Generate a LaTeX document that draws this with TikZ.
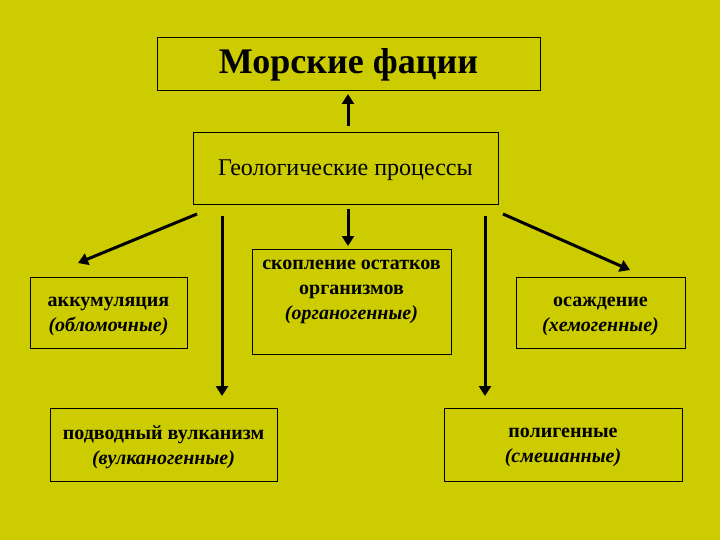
\documentclass[tikz,border=0pt]{standalone}
\usepackage{fontspec}
\setmainfont{Liberation Serif}
\usetikzlibrary{arrows.meta}
\definecolor{bg}{HTML}{CCCC00}
\begin{document}
\begin{tikzpicture}[x=1pt,y=-1pt,
  box/.style={draw=black,line width=0.8pt,fill=bg,inner sep=0pt},
  lbl/.style={font=\bfseries\fontsize{20}{25}\selectfont,align=center},
  arr/.style={line width=3pt,-{Triangle[length=10pt,width=12pt]}}]
\fill[bg] (0,0) rectangle (720,540);
\useasboundingbox (0,0) rectangle (720,540);
\node[box,minimum width=383pt,minimum height=53pt] (title) at (348.5,63.5) {};
\node[font=\bfseries\fontsize{36}{40}\selectfont] (titlet) at (348.5,65) {Морские фации};
\node[box,minimum width=305pt,minimum height=72pt] (geo) at (345.5,168) {};
\node[font=\fontsize{24}{28}\selectfont] (geot) at (345.5,170) {Геологические процессы};
\node[box,minimum width=157pt,minimum height=71pt] (akk) at (108.5,312.5) {};
\node[lbl] (akkt) at (108.5,316) {аккумуляция\\\textit{(обломочные)}};
\node[box,minimum width=199pt,minimum height=105pt] (org) at (351.5,301.5) {};
\node[lbl] (orgt) at (351.5,292) {скопление остатков\\организмов\\\textit{(органогенные)}};
\node[box,minimum width=169pt,minimum height=71pt] (him) at (600.5,312.5) {};
\node[lbl] (himt) at (600.5,316) {осаждение\\\textit{(хемогенные)}};
\node[box,minimum width=227pt,minimum height=73pt] (vul) at (163.5,444.5) {};
\node[lbl] (vult) at (163.5,447) {подводный вулканизм\\\textit{(вулканогенные)}};
\node[box,minimum width=238pt,minimum height=73pt] (pol) at (563,444.5) {};
\node[lbl] (polt) at (563,447) {полигенные\\\textit{(смешанные)}};
\coordinate (a1) at (348,126); \coordinate (b1) at (348,94);
\coordinate (a2) at (348,209); \coordinate (b2) at (348,246);
\coordinate (a3) at (197,214); \coordinate (b3) at (78,263);
\coordinate (a4) at (503,214); \coordinate (b4) at (630,270);
\coordinate (a5) at (222,216); \coordinate (b5) at (222,396);
\coordinate (a6) at (485,216); \coordinate (b6) at (485,396);
\foreach \i in {1,...,6} \draw[arr] (a\i) -- (b\i);
\end{tikzpicture}
\end{document}
